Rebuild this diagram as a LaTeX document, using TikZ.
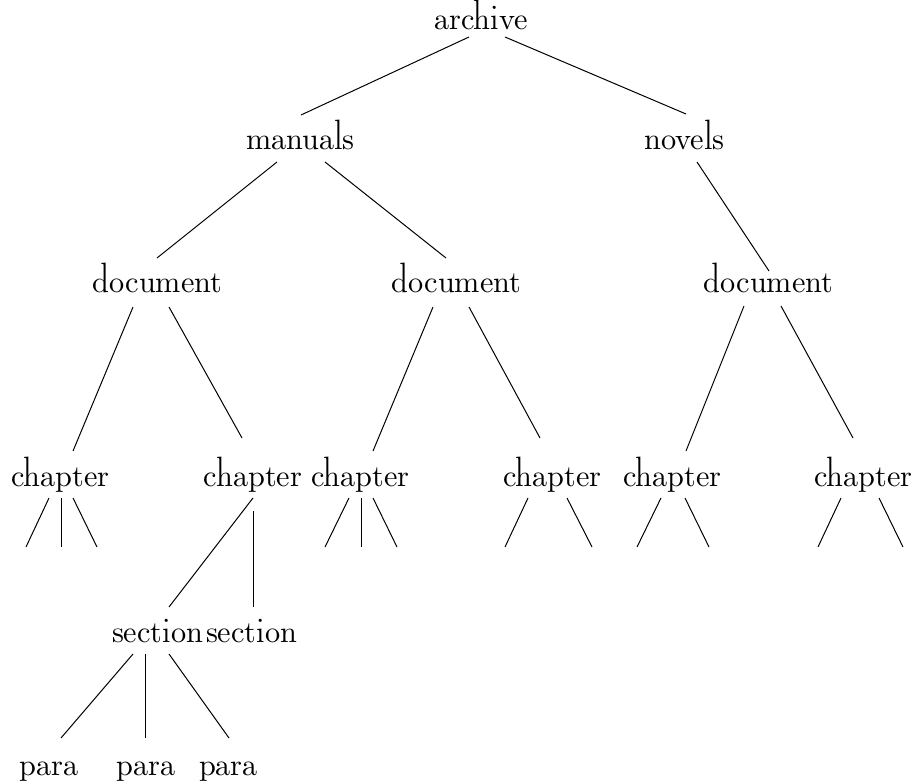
\documentclass[tikz,border=0pt]{standalone}
\usepackage{fontspec}
\setmainfont{lmromandunh10-regular}[Extension=.otf]
\usetikzlibrary{calc}
% Dunhill serif face for the tree labels
\newcommand\treefont{\fontsize{22.7}{27}\selectfont}
\tikzset{
  lbl/.style={inner sep=0pt, anchor=base, font=\treefont},
  edge/.style={line width=0.75pt, black}
}
\begin{document}
\begin{tikzpicture}[x=0.75pt, y=-0.75pt]
\useasboundingbox (0,0) rectangle (921,784);

% labels (placed at text centre / baseline)
\node[lbl] (archive) at (481,30) {archive};
\node[lbl] (manuals) at (300.5,150) {manuals};
\node[lbl] (novels)  at (684.5,150) {novels};
\node[lbl] (docL) at (157.5,293) {document};
\node[lbl] (docM) at (456.5,293) {document};
\node[lbl] (docR) at (768.5,293) {document};
\node[lbl] (chA) at (60.5,486)  {chapter};
\node[lbl] (chB) at (253,486)   {chapter};
\node[lbl] (chC) at (360.5,486) {chapter};
\node[lbl] (chD) at (552.5,486) {chapter};
\node[lbl] (chE) at (672.5,486) {chapter};
\node[lbl] (chF) at (863.5,486) {chapter};
\node[lbl] (secA) at (157.5,642) {section};
\node[lbl] (secB) at (251.5,642) {section};
\node[lbl] (paraA) at (49,775)    {para};
\node[lbl] (paraB) at (146,775)   {para};
\node[lbl] (paraC) at (228.5,775) {para};

% branches
\draw[edge] ($(archive.base)+(-12,7)$) -- ($(manuals.base)+(0.5,-35)$);
\draw[edge] ($(archive.base)+(24,7)$)  -- ($(novels.base)+(1.5,-36)$);
\draw[edge] ($(manuals.base)+(-23.5,12)$) -- ($(docL.base)+(-0.5,-35)$);
\draw[edge] ($(manuals.base)+(24.5,12)$)  -- ($(docM.base)+(-10.5,-35)$);
\draw[edge] ($(novels.base)+(12.5,12)$)   -- ($(docR.base)+(0.5,-22)$);
\draw[edge] ($(docL.base)+(-24.5,14)$) -- ($(chA.base)+(12.5,-35)$);
\draw[edge] ($(docL.base)+(11.5,14)$)  -- ($(chB.base)+(-11,-48)$);
\draw[edge] ($(docM.base)+(-23.5,14)$) -- ($(chC.base)+(12.5,-35)$);
\draw[edge] ($(docM.base)+(12.5,14)$)  -- ($(chD.base)+(-12.5,-48)$);
\draw[edge] ($(docR.base)+(-24.5,13)$) -- ($(chE.base)+(13.5,-35)$);
\draw[edge] ($(docR.base)+(12.5,13)$)  -- ($(chF.base)+(-10.5,-48)$);
\draw[edge] ($(chB.base)+(0,12)$) -- ($(secA.base)+(11.5,-35)$);
\draw[edge] ($(chB.base)+(0,25)$) -- ($(secB.base)+(1.5,-35)$);
\draw[edge] ($(secA.base)+(-24.5,12)$) -- ($(paraA.base)+(12,-37)$);
\draw[edge] ($(secA.base)+(-12.5,12)$) -- ($(paraB.base)+(-1,-37)$);
\draw[edge] ($(secA.base)+(11.5,12)$)  -- ($(paraC.base)+(0.5,-37)$);

% open stubs under the collapsed chapters
\draw[edge] ($(chA.base)+(-11.5,12)$) -- ++(-23,49);
\draw[edge] ($(chA.base)+(0.5,12)$)   -- ++(0,49);
\draw[edge] ($(chA.base)+(12.5,12)$)  -- ++(24,49);
\draw[edge] ($(chC.base)+(-11.5,12)$) -- ++(-24,49);
\draw[edge] ($(chC.base)+(0.5,12)$)   -- ++(0,49);
\draw[edge] ($(chC.base)+(12.5,12)$)  -- ++(24,49);
\draw[edge] ($(chD.base)+(-24.5,12)$) -- ++(-23,49);
\draw[edge] ($(chD.base)+(14.5,12)$)  -- ++(25,49);
\draw[edge] ($(chE.base)+(-11.5,12)$) -- ++(-24,49);
\draw[edge] ($(chE.base)+(12.5,12)$)  -- ++(24,49);
\draw[edge] ($(chF.base)+(-22.5,12)$) -- ++(-23,49);
\draw[edge] ($(chF.base)+(15.5,12)$)  -- ++(24,49);
\end{tikzpicture}
\end{document}
